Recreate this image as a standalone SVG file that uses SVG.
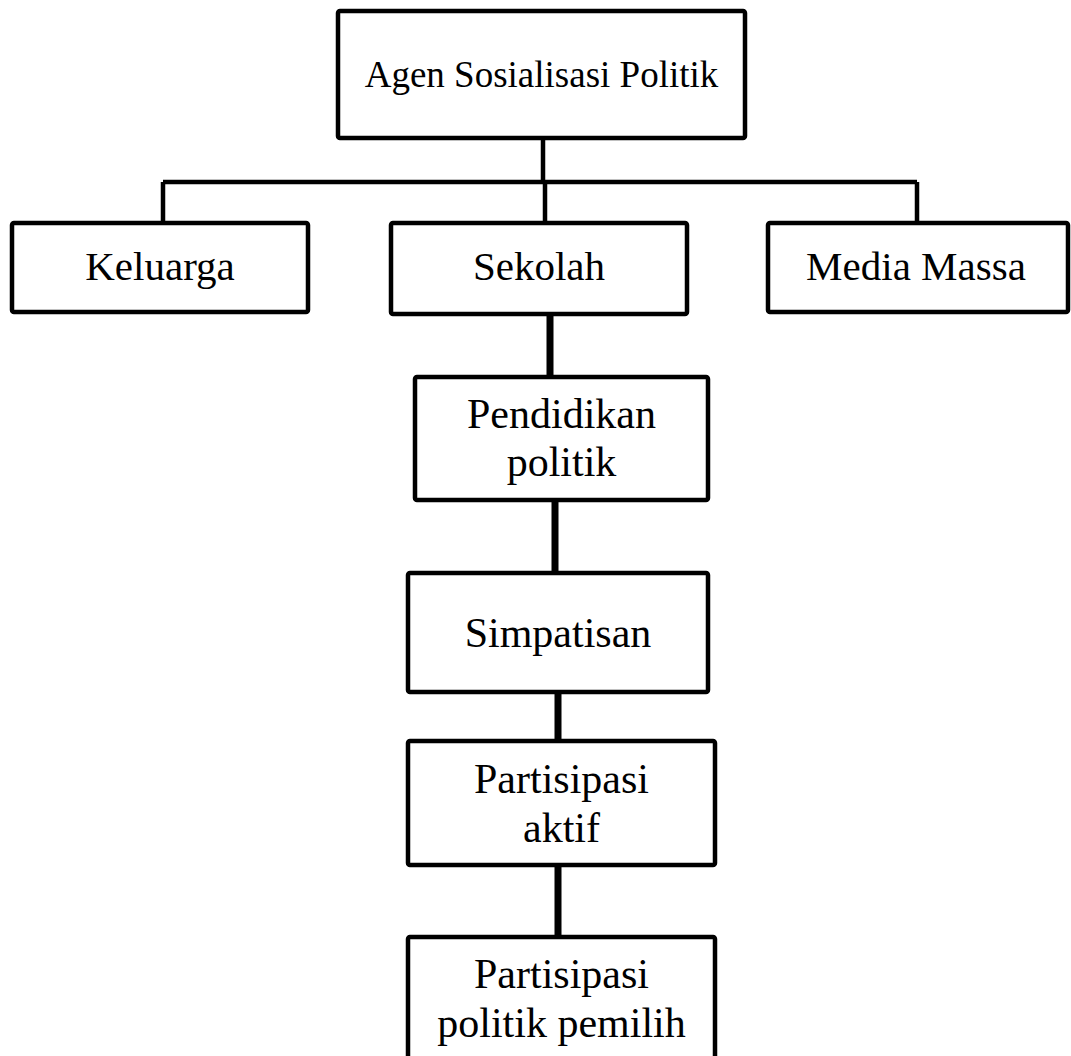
<svg xmlns="http://www.w3.org/2000/svg" width="1071" height="1056" viewBox="0 0 1071 1056">
<style>
.box{fill:#fff;stroke:#000;stroke-width:4.5;stroke-linejoin:round}
.t{font-family:"Liberation Serif","Times New Roman",serif;fill:#000;text-anchor:middle}
.l1{font-size:37px}
.l2{font-size:41px}
.l3{font-size:42px}
.c{fill:none;stroke:#000;stroke-width:4.5}
.ct{fill:none;stroke:#000;stroke-width:7}
</style>
<rect width="1071" height="1056" fill="#fff"/>
<g id="connectors">
<path class="c" d="M543 138 V182 M163 182 H917 M163 182 V223 M545 182 V223 M917 182 V223"/>
<path class="ct" d="M550 316 V377 M555 500 V573 M558 692 V741 M558 865 V937"/>
</g>
<g id="agen"><rect class="box" x="338" y="11" width="407" height="127" rx="2"/><text class="t l1" x="541.5" y="87">Agen Sosialisasi Politik</text></g>
<g id="keluarga"><rect class="box" x="12" y="223" width="296" height="89" rx="2"/><text class="t l2" x="160" y="280">Keluarga</text></g>
<g id="sekolah"><rect class="box" x="391" y="223" width="296" height="91" rx="2"/><text class="t l2" x="539" y="280">Sekolah</text></g>
<g id="media"><rect class="box" x="768" y="223" width="300" height="89" rx="2"/><text class="t l2" x="916" y="280">Media Massa</text></g>
<g id="pendidikan"><rect class="box" x="415" y="377" width="293" height="123" rx="2"/><text class="t l3" x="561.5" y="428">Pendidikan</text><text class="t l3" x="561.5" y="476">politik</text></g>
<g id="simpatisan"><rect class="box" x="408" y="573" width="300" height="119" rx="2"/><text class="t l3" x="558" y="647">Simpatisan</text></g>
<g id="aktif"><rect class="box" x="408" y="741" width="307" height="124" rx="2"/><text class="t l3" x="561.5" y="793">Partisipasi</text><text class="t l3" x="561.5" y="842">aktif</text></g>
<g id="pemilih"><rect class="box" x="408" y="937" width="307" height="130" rx="2"/><text class="t l3" x="561.5" y="988">Partisipasi</text><text class="t l3" x="561.5" y="1037">politik pemilih</text></g>
</svg>
